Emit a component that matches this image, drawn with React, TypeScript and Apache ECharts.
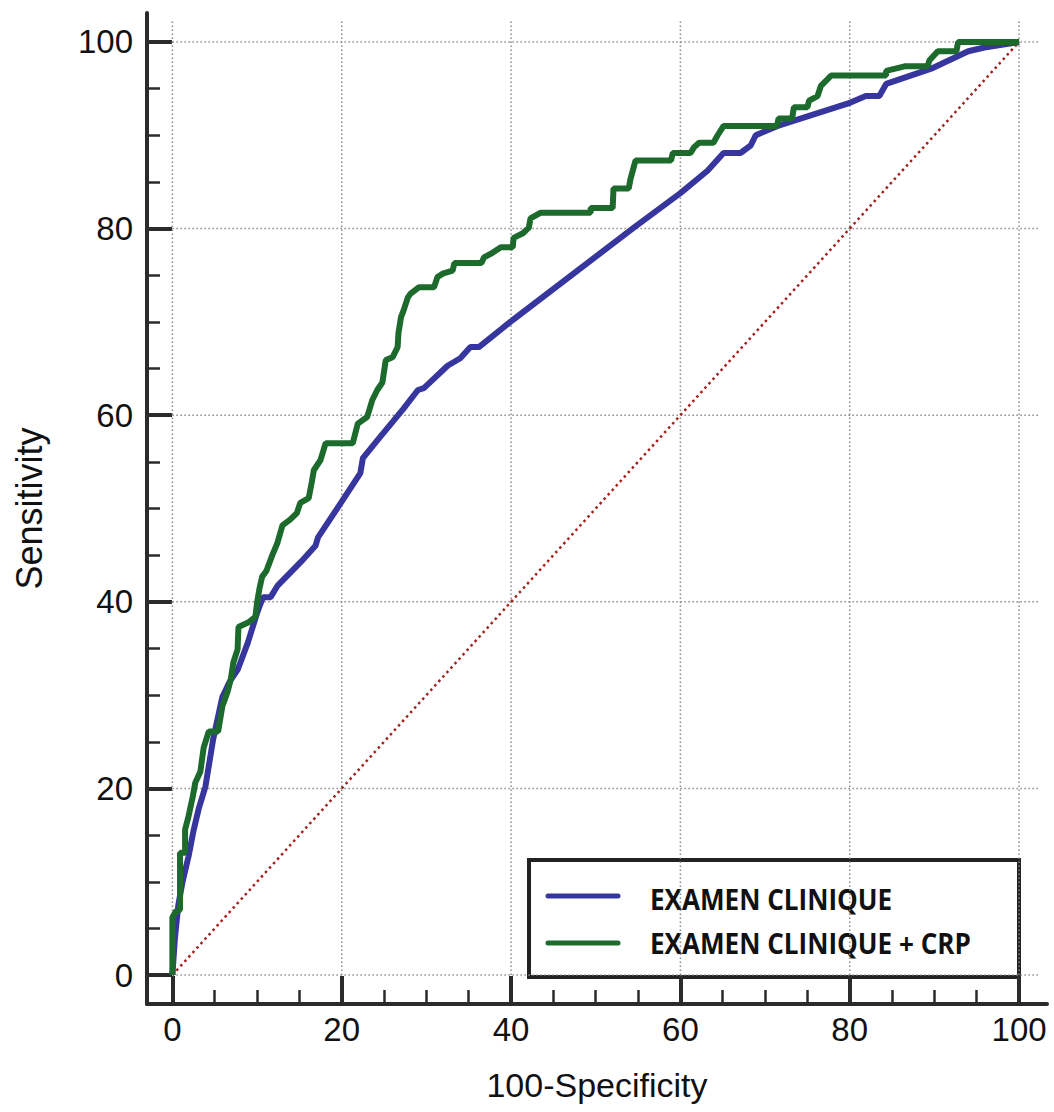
import React, { useEffect, useRef } from "react";
import * as echarts from "echarts";

// ---- Data ----
const SERIES_NAMES = ["EXAMEN CLINIQUE", "EXAMEN CLINIQUE + CRP"];

const clinX = [0, 0.3, 0.7, 1.2, 1.9, 2.5, 3.1, 3.9, 4.8, 5.9, 6.8, 7.7, 8.9, 10.0, 10.7, 11.6, 12.4, 15.2, 16.9, 17.2, 19.9, 22.2, 22.5, 24.2, 27.3, 29.0, 29.7, 32.5, 34.0, 35.2, 36.2, 40.2, 54.5, 60.0, 63.2, 65.1, 67.1, 68.3, 68.9, 71.5, 80.1, 81.9, 83.5, 84.3, 89.8, 94.0, 95.9, 100];
const clinY = [0, 4, 7.5, 10, 12.7, 15.5, 17.8, 20.2, 25.2, 29.8, 31.5, 32.7, 35.6, 38.8, 40.5, 40.5, 41.7, 44.3, 46.0, 46.9, 50.6, 53.8, 55.4, 57.3, 60.7, 62.7, 62.9, 65.3, 66.1, 67.3, 67.3, 70.2, 80.1, 83.8, 86.2, 88.1, 88.1, 88.9, 90.0, 91.0, 93.5, 94.2, 94.2, 95.5, 97.2, 99.0, 99.4, 100];

const crpX = [0, 0, 0.4, 0.9, 0.9, 1.5, 1.5, 1.9, 2.4, 2.7, 3.3, 3.7, 4.3, 5.4, 5.9, 6.5, 6.9, 7.2, 7.7, 7.8, 9.0, 9.8, 10.0, 10.3, 10.6, 11.1, 11.8, 12.4, 13.0, 13.9, 14.7, 15.1, 16.1, 16.5, 16.7, 17.5, 18.1, 21.3, 21.9, 23.0, 23.6, 24.2, 24.8, 25.2, 26.0, 26.6, 26.7, 27.0, 27.3, 27.8, 28.1, 29.1, 30.9, 31.3, 32.0, 33.1, 33.3, 36.5, 36.8, 37.8, 38.8, 40.2, 40.3, 41.4, 42.1, 42.3, 43.5, 49.4, 49.4, 52.0, 52.1, 53.9, 54.1, 54.7, 58.9, 59.1, 61.2, 61.6, 62.2, 63.9, 64.4, 65.1, 71.4, 71.6, 73.2, 73.4, 75.0, 75.2, 76.2, 76.6, 77.8, 84.3, 84.3, 86.6, 89.2, 89.4, 90.4, 92.6, 92.8, 100];
const crpY = [0, 6.2, 6.8, 7.0, 13.1, 13.1, 15.6, 17.0, 19.1, 20.6, 21.8, 24.4, 26.1, 26.1, 28.8, 30.3, 31.7, 33.5, 34.9, 37.3, 37.8, 38.4, 39.9, 41.5, 42.7, 43.3, 45.0, 46.3, 48.2, 48.8, 49.5, 50.6, 51.1, 53.0, 54.1, 55.2, 57.0, 57.0, 59.1, 59.8, 61.6, 62.7, 63.5, 65.9, 66.2, 67.3, 68.8, 70.5, 71.2, 72.6, 73.0, 73.7, 73.7, 74.8, 75.2, 75.5, 76.3, 76.3, 76.9, 77.4, 78.0, 78.0, 79.0, 79.5, 80.1, 81.1, 81.7, 81.7, 82.2, 82.2, 84.3, 84.3, 85.3, 87.3, 87.3, 88.1, 88.1, 88.7, 89.2, 89.2, 90.0, 91.0, 91.0, 91.8, 91.8, 93.0, 93.0, 93.7, 94.2, 95.3, 96.4, 96.4, 96.9, 97.4, 97.4, 98.0, 99.0, 99.0, 100, 100];

const diagX = [0, 100];
const diagY = [0, 100];

const majorTicks = [0, 20, 40, 60, 80, 100];
const minorTicks = [5, 10, 15, 25, 30, 35, 45, 50, 55, 65, 70, 75, 85, 90, 95];

const AX_MIN_X = -3.0;
const AX_MAX_X = 103.3;
const AX_MIN_Y = -3.1;
const AX_MAX_Y = 103.1;
const GRID_END = 102.4;

const BLUE = "#36369e";
const GREEN = "#1c6b2d";
const RED = "#a3201c";
const AXIS = "#2b2b2b";

function pairs(xs: number[], ys: number[]) {
  return xs.map((x, i) => [x, ys[i]]);
}

export default function App() {
  const ref = useRef<HTMLDivElement>(null);

  useEffect(() => {
    if (!ref.current) return;
    const chart = echarts.init(ref.current, null, { renderer: "svg" });

    const gridSeries: any[] = [];
    majorTicks.forEach((v) => {
      gridSeries.push({
        type: "line",
        xAxisIndex: 0,
        yAxisIndex: 0,
        data: [[v, 0], [v, GRID_END]],
        symbol: "none",
        silent: true,
        z: 1,
        lineStyle: { color: "#8a8a8a", width: 1.5, type: [1.5, 2.5] },
      });
      gridSeries.push({
        type: "line",
        xAxisIndex: 0,
        yAxisIndex: 0,
        data: [[0, v], [GRID_END, v]],
        symbol: "none",
        silent: true,
        z: 1,
        lineStyle: { color: "#8a8a8a", width: 1.5, type: [1.5, 2.5] },
      });
    });

    const labelFont = {
      fontFamily: "Liberation Sans, Arial, sans-serif",
      fontSize: 33,
      color: "#111",
    };

    const option: any = {
      animation: false,
      backgroundColor: "#ffffff",
      grid: { left: 147, right: 7, top: 13, bottom: 108, containLabel: false },
      xAxis: [
        {
          type: "value",
          min: AX_MIN_X,
          max: AX_MAX_X,
          position: "bottom",
          name: "100-Specificity",
          nameLocation: "middle",
          nameGap: 64,
          nameTextStyle: { ...labelFont, fontSize: 34 },
          axisLine: { show: true, onZero: false, lineStyle: { color: AXIS, width: 4 } },
          axisTick: {
            show: true,
            inside: true,
            length: 28,
            customValues: majorTicks,
            lineStyle: { color: AXIS, width: 4 },
          },
          axisLabel: { show: true, margin: 9, customValues: majorTicks, ...labelFont },
          splitLine: { show: false },
        },
        {
          type: "value",
          min: AX_MIN_X,
          max: AX_MAX_X,
          position: "bottom",
          axisLine: { show: false, onZero: false },
          axisTick: {
            show: true,
            inside: true,
            length: 14,
            customValues: minorTicks,
            lineStyle: { color: AXIS, width: 2.5 },
          },
          axisLabel: { show: false },
          splitLine: { show: false },
        },
      ],
      yAxis: [
        {
          type: "value",
          min: AX_MIN_Y,
          max: AX_MAX_Y,
          position: "left",
          name: "Sensitivity",
          nameLocation: "middle",
          nameGap: 100,
          nameRotate: 90,
          nameTextStyle: { ...labelFont, fontSize: 36 },
          axisLine: { show: true, onZero: false, lineStyle: { color: AXIS, width: 4 } },
          axisTick: {
            show: true,
            inside: true,
            length: 25,
            customValues: majorTicks,
            lineStyle: { color: AXIS, width: 4 },
          },
          axisLabel: { show: true, margin: 14, customValues: majorTicks, ...labelFont },
          splitLine: { show: false },
        },
        {
          type: "value",
          min: AX_MIN_Y,
          max: AX_MAX_Y,
          position: "left",
          axisLine: { show: false, onZero: false },
          axisTick: {
            show: true,
            inside: true,
            length: 13,
            customValues: minorTicks,
            lineStyle: { color: AXIS, width: 2.5 },
          },
          axisLabel: { show: false },
          splitLine: { show: false },
        },
      ],
      series: [
        ...gridSeries,
        {
          type: "line",
          name: "diagonal",
          data: pairs(diagX, diagY),
          symbol: "none",
          silent: true,
          z: 2,
          lineStyle: { color: RED, width: 2.5, type: [2.5, 3.5] },
        },
        {
          type: "line",
          name: SERIES_NAMES[0],
          data: pairs(clinX, clinY),
          symbol: "none",
          z: 3,
          lineStyle: { color: BLUE, width: 6 },
        },
        {
          type: "line",
          name: SERIES_NAMES[1],
          data: pairs(crpX, crpY),
          symbol: "none",
          z: 4,
          lineStyle: { color: GREEN, width: 6 },
        },
      ],
      graphic: [
        {
          type: "group",
          z: 100,
          children: [
            {
              type: "rect",
              shape: { x: 529, y: 860, width: 490, height: 117 },
              style: { fill: "#ffffff", stroke: "#222", lineWidth: 4 },
            },
            {
              type: "line",
              shape: { x1: 548, y1: 896, x2: 618, y2: 896 },
              style: { stroke: BLUE, lineWidth: 5, lineCap: "round" },
            },
            {
              type: "line",
              shape: { x1: 548, y1: 943, x2: 618, y2: 943 },
              style: { stroke: GREEN, lineWidth: 5, lineCap: "round" },
            },
            {
              type: "text",
              x: 650,
              y: 899,
              scaleX: 0.9,
              style: {
                text: SERIES_NAMES[0],
                fontFamily: "Open Sans, sans-serif",
                fontWeight: "bold",
                fontSize: 29,
                fill: "#111",
                align: "left",
                verticalAlign: "middle",
              },
            },
            {
              type: "text",
              x: 650,
              y: 943,
              scaleX: 0.9,
              style: {
                text: SERIES_NAMES[1],
                fontFamily: "Open Sans, sans-serif",
                fontWeight: "bold",
                fontSize: 29,
                fill: "#111",
                align: "left",
                verticalAlign: "middle",
              },
            },
          ],
        },
      ],
    };

    chart.setOption(option);
    return () => chart.dispose();
  }, []);

  return (
    <div
      ref={ref}
      style={{ position: "fixed", left: 0, top: 0, width: 1054, height: 1112, background: "#fff" }}
    />
  );
}
